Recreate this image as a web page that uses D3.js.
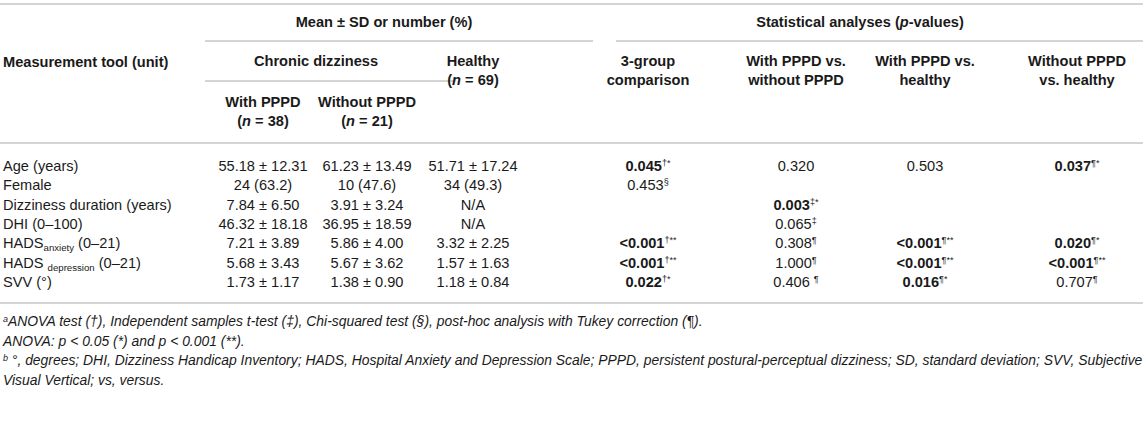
<!DOCTYPE html>
<html>
<head>
<script src="https://d3js.org/d3.v7.min.js"></script>
<style>
  body { margin: 0; background: #fff; }
  svg { display: block; font-family: "Liberation Sans", Arial, sans-serif; }
</style>
</head>
<body>
<script>
// ---- data ----
var measureBase = ["Age (years)", "Female", "Dizziness duration (years)", "DHI (0\u2013100)", "HADS", "HADS ", "SVV (\u00b0)"];
var measureSub  = ["", "", "", "", "anxiety", "depression", ""];
var measureTail = ["", "", "", "", " (0\u201321)", " (0\u201321)", ""];

var withPPPD    = ["55.18 \u00b1 12.31", "24 (63.2)", "7.84 \u00b1 6.50", "46.32 \u00b1 18.18", "7.21 \u00b1 3.89", "5.68 \u00b1 3.43", "1.73 \u00b1 1.17"];
var withoutPPPD = ["61.23 \u00b1 13.49", "10 (47.6)", "3.91 \u00b1 3.24", "36.95 \u00b1 18.59", "5.86 \u00b1 4.00", "5.67 \u00b1 3.62", "1.38 \u00b1 0.90"];
var healthy     = ["51.71 \u00b1 17.24", "34 (49.3)", "N/A", "N/A", "3.32 \u00b1 2.25", "1.57 \u00b1 1.63", "1.18 \u00b1 0.84"];

// p-values: [text, superscript, bold]
var p3group = [["0.045", "\u2020*", 1], ["0.453", "\u00a7", 0], null, null, ["<0.001", "\u2020**", 1], ["<0.001", "\u2020**", 1], ["0.022", "\u2020*", 1]];
var pWithVsWithout = [["0.320", "", 0], null, ["0.003", "\u2021*", 1], ["0.065", "\u2021", 0], ["0.308", "\u00b6", 0], ["1.000", "\u00b6", 0], ["0.406 ", "\u00b6", 0]];
var pWithVsHealthy = [["0.503", "", 0], null, null, null, ["<0.001", "\u00b6**", 1], ["<0.001", "\u00b6**", 1], ["0.016", "\u00b6*", 1]];
var pWithoutVsHealthy = [["0.037", "\u00b6*", 1], null, null, null, ["0.020", "\u00b6*", 1], ["<0.001", "\u00b6**", 1], ["0.707", "\u00b6", 0]];

var footnotes = [
  ["a", "ANOVA test (\u2020), Independent samples t-test (\u2021), Chi-squared test (\u00a7), post-hoc analysis with Tukey correction (\u00b6)."],
  ["", "ANOVA: p < 0.05 (*) and p < 0.001 (**)."],
  ["b", " \u00b0, degrees; DHI, Dizziness Handicap Inventory; HADS, Hospital Anxiety and Depression Scale; PPPD, persistent postural-perceptual dizziness; SD, standard deviation; SVV, Subjective"],
  ["", "Visual Vertical; vs, versus."]
];

// ---- layout ----
var width = 1146, height = 434;
var ink = "#1a1a1a", rule = "#c6c6c6";
var fs = 14.6;

var svg = d3.select("body").append("svg")
    .attr("width", width)
    .attr("height", height);

var colX = d3.scaleOrdinal()
    .domain(["with", "without", "healthy", "p3", "pww", "pwh", "pwoh"])
    .range([263, 367, 473, 648, 796, 925, 1077]);

var rowY = d3.scalePoint()
    .domain(d3.range(measureBase.length))
    .range([171, 287]);

// rules
var rules = [
  [0, 1143, 4], [205, 593, 41], [616, 1143, 41], [205, 456, 81], [0, 1143, 143], [0, 1143, 303]
];
svg.selectAll("line.rule").data(rules).enter().append("line")
    .attr("class", "rule")
    .attr("x1", function(d) { return d[0]; })
    .attr("x2", function(d) { return d[1]; })
    .attr("y1", function(d) { return d[2]; })
    .attr("y2", function(d) { return d[2]; })
    .attr("stroke", rule)
    .attr("stroke-width", 1.6);

// header text
function hdr(x, y, parts, anchor) {
  var t = svg.append("text")
      .attr("x", x).attr("y", y)
      .attr("text-anchor", anchor || "middle")
      .attr("font-size", fs).attr("font-weight", "bold")
      .attr("fill", ink);
  parts.forEach(function(p) {
    var s = t.append("tspan").text(p[0]);
    if (p[1]) s.attr("font-style", "italic");
  });
  return t;
}
hdr(384, 27, [["Mean \u00b1 SD or number (%)"]]);
hdr(860, 27, [["Statistical analyses ("], ["p", 1], ["-values)"]]);
hdr(3, 67, [["Measurement tool (unit)"]], "start");
hdr(316, 66, [["Chronic dizziness"]]);
hdr(colX("healthy"), 66, [["Healthy"]]);
hdr(colX("healthy"), 85, [["("], ["n", 1], [" = 69)"]]);
hdr(colX("with"), 107, [["With PPPD"]]);
hdr(colX("with"), 126, [["("], ["n", 1], [" = 38)"]]);
hdr(colX("without"), 107, [["Without PPPD"]]);
hdr(colX("without"), 126, [["("], ["n", 1], [" = 21)"]]);
hdr(colX("p3"), 66, [["3-group"]]);
hdr(colX("p3"), 85, [["comparison"]]);
hdr(colX("pww"), 66, [["With PPPD vs."]]);
hdr(colX("pww"), 85, [["without PPPD"]]);
hdr(colX("pwh"), 66, [["With PPPD vs."]]);
hdr(colX("pwh"), 85, [["healthy"]]);
hdr(colX("pwoh"), 66, [["Without PPPD"]]);
hdr(colX("pwoh"), 85, [["vs. healthy"]]);

// measure labels
var lab = svg.selectAll("text.measure").data(measureBase).enter().append("text")
    .attr("class", "measure")
    .attr("x", 3)
    .attr("y", function(d, i) { return rowY(i); })
    .attr("font-size", fs)
    .attr("fill", ink);
lab.append("tspan").text(function(d) { return d; });
lab.append("tspan")
    .attr("font-size", fs * 0.66)
    .attr("dy", 3)
    .text(function(d, i) { return measureSub[i]; });
lab.append("tspan")
    .attr("dy", function(d, i) { return measureSub[i] ? -3 : 0; })
    .text(function(d, i) { return measureTail[i]; });

// descriptive columns
[["with", withPPPD], ["without", withoutPPPD], ["healthy", healthy]].forEach(function(c) {
  svg.selectAll("text.c-" + c[0]).data(c[1]).enter().append("text")
      .attr("class", "c-" + c[0])
      .attr("x", colX(c[0]))
      .attr("y", function(d, i) { return rowY(i); })
      .attr("text-anchor", "middle")
      .attr("font-size", fs)
      .attr("fill", ink)
      .text(function(d) { return d; });
});

// p-value columns
[["p3", p3group], ["pww", pWithVsWithout], ["pwh", pWithVsHealthy], ["pwoh", pWithoutVsHealthy]].forEach(function(c) {
  var rows = c[1].map(function(d, i) { return d ? { v: d[0], sup: d[1], bold: d[2], i: i } : null; })
      .filter(function(d) { return d; });
  var t = svg.selectAll("text.c-" + c[0]).data(rows).enter().append("text")
      .attr("class", "c-" + c[0])
      .attr("x", colX(c[0]))
      .attr("y", function(d) { return rowY(d.i); })
      .attr("text-anchor", "middle")
      .attr("font-size", fs)
      .attr("fill", ink)
      .attr("font-weight", function(d) { return d.bold ? "bold" : "normal"; });
  t.append("tspan").text(function(d) { return d.v; });
  t.append("tspan")
      .attr("font-size", fs * 0.62)
      .attr("font-weight", "normal")
      .attr("dy", -5)
      .text(function(d) { return d.sup; });
});

// footnotes
var fy = d3.scalePoint().domain(d3.range(footnotes.length)).range([326, 385]);
var ft = svg.selectAll("text.foot").data(footnotes).enter().append("text")
    .attr("class", "foot")
    .attr("x", 3)
    .attr("y", function(d, i) { return fy(i); })
    .attr("font-size", 13.9)
    .attr("font-style", "italic")
    .attr("fill", ink);
ft.append("tspan")
    .attr("font-size", 9)
    .attr("dy", -4)
    .text(function(d) { return d[0]; });
ft.append("tspan")
    .attr("dy", function(d) { return d[0] ? 4 : 0; })
    .text(function(d) { return d[1]; });
</script>
</body>
</html>
